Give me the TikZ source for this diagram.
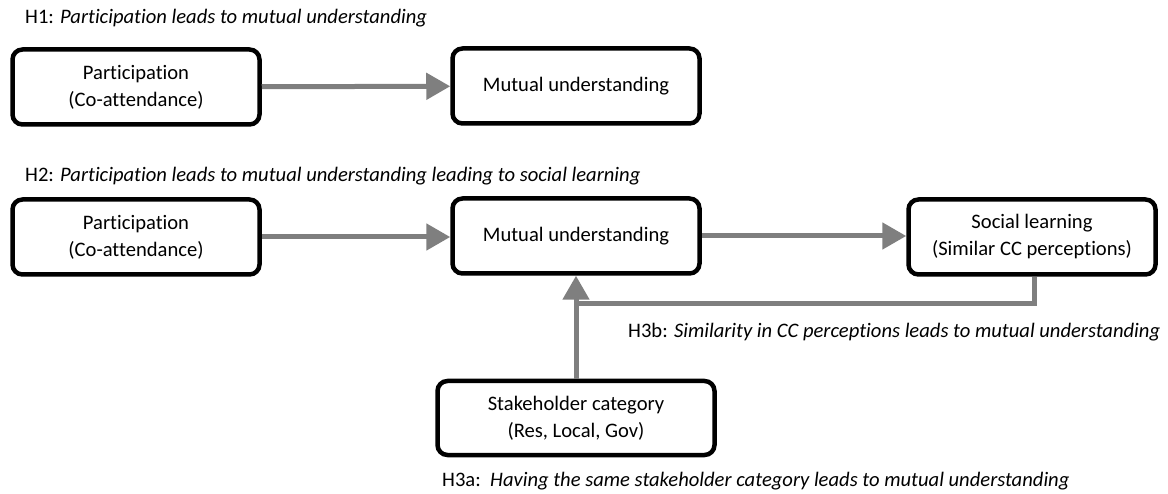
\documentclass[tikz,border=0pt]{standalone}
\usepackage{fontspec}
\setmainfont{Carlito}[Ligatures={NoCommon}]
\usetikzlibrary{arrows.meta}
\definecolor{arrgray}{RGB}{127,127,127}
\begin{document}
\begin{tikzpicture}[x=1pt,y=-1pt,
  box/.style={draw=black, line width=4.5pt, rounded corners=10pt, fill=white, align=center,
    minimum width=247pt, minimum height=75pt, inner sep=0pt, font=\fontsize{20.6}{27}\selectfont},
  conn/.style={draw=arrgray, line width=5pt, -{Triangle[length=24pt,width=26pt]}},
  feed/.style={draw=arrgray, line width=5pt},
  hyp/.style={anchor=west, inner sep=0pt, font=\fontsize{20.6}{24}\selectfont}]
\useasboundingbox (0,0) rectangle (1168,494);
% row 1
\node[hyp] (h1) at (25,18) {H1: \textit{Participation leads to mutual understanding}};
\node[box] (p1) at (136,87) {Participation\\(Co-attendance)};
\node[box] (m1) at (576,86) {Mutual understanding};
\draw[conn] (p1) -- (m1);
% row 2
\node[hyp] (h2) at (25,176) {H2: \textit{Participation leads to mutual understanding leading to social learning}};
\node[box] (p2) at (136,237) {Participation\\(Co-attendance)};
\node[box] (m2) at (576,236) {Mutual understanding};
\node[box] (sl) at (1032,237) {Social learning\\(Similar CC perceptions)};
\draw[conn] (p2.east) -- (p2.east -| m2.west);
\draw[conn] (m2.east) -- (m2.east -| sl.west);
% stakeholder
\node[box, minimum width=277pt, minimum height=74pt] (sc) at (576,418) {Stakeholder category\\(Res, Local, Gov)};
\coordinate (fby) at (0,304);
\draw[feed] ([xshift=2pt]sl.south) |- (m2.south |- fby);
\draw[conn] (sc.north) -- (m2.south);
\node[hyp] (h3b) at (628,332) {H3b: \textit{Similarity in CC perceptions leads to mutual understanding}};
\node[hyp] (h3a) at (442,481) {H3a:\ \ \textit{Having the same stakeholder category leads to mutual understanding}};
\end{tikzpicture}
\end{document}
